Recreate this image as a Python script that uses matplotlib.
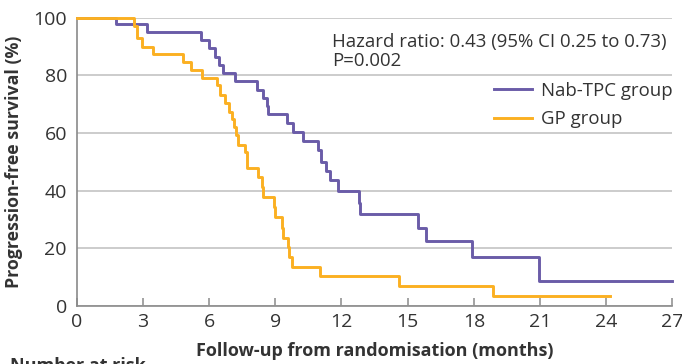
import matplotlib
matplotlib.use("Agg")
import matplotlib.pyplot as plt
from matplotlib.lines import Line2D

# Kaplan-Meier steps (months, % progression-free)
t_nab = [0, 1.78, 3.2, 5.62, 6.01, 6.28, 6.46, 6.65, 7.17, 8.15, 8.46, 8.61, 8.68,
         9.52, 9.81, 10.25, 10.92, 11.05, 11.29, 11.48, 11.85, 12.79, 12.85,
         15.48, 15.81, 17.92, 20.96, 27]
s_nab = [100, 97.7, 95.1, 92.3, 89.4, 86.5, 83.6, 80.7, 77.9, 75.0, 72.0, 69.4, 66.7,
         63.4, 60.3, 57.3, 54.0, 50.0, 46.9, 43.6, 39.7, 35.5, 31.8,
         27.1, 22.6, 17.0, 8.6, 8.6]

t_gp = [0, 2.6, 2.75, 2.94, 3.47, 4.83, 5.16, 5.66, 6.34, 6.49, 6.72, 6.91, 7.02,
        7.13, 7.2, 7.32, 7.63, 7.73, 8.23, 8.38, 8.45, 8.95, 9.0, 9.29, 9.37,
        9.56, 9.63, 9.77, 11.03, 14.6, 18.85, 24.16]
s_gp = [100, 97.0, 93.0, 89.9, 87.3, 84.7, 81.8, 79.2, 76.6, 73.2, 70.3, 67.4, 64.7,
        62.0, 59.3, 55.8, 53.5, 47.7, 44.8, 41.3, 37.8, 34.4, 30.9, 26.9, 23.4,
        20.5, 17.0, 13.5, 10.3, 6.8, 3.5, 3.5]

x_ticks = [0, 3, 6, 9, 12, 15, 18, 21, 24, 27]
y_ticks = [0, 20, 40, 60, 80, 100]
labels = ["Nab-TPC group", "GP group"]

purple = "#6a5ca8"
gold = "#fbb022"
grey = "#8a8a8a"
txt = "#333333"

plt.rcParams["font.family"] = ["Open Sans", "DejaVu Sans"]

W, H = 682, 364
fig = plt.figure(figsize=(W / 100, H / 100), dpi=100)
ax = fig.add_axes([76.7 / W, 1 - 305.7 / H, (672.5 - 76.7) / W, (305.7 - 17.7) / H])

ax.set_xlim(0, 27)
ax.set_ylim(0, 100)
ax.set_xticks(x_ticks)
ax.set_yticks(y_ticks)

ax.grid(axis="y", color="#c4c4c4", linewidth=1.2)
ax.set_axisbelow(True)

ax.step(t_nab, s_nab, where="post", color=purple, linewidth=2.1, clip_on=False, zorder=3)
ax.step(t_gp, s_gp, where="post", color=gold, linewidth=2.1, clip_on=False, zorder=3)

for side in ["top", "right"]:
    ax.spines[side].set_visible(False)
for side in ["left", "bottom"]:
    ax.spines[side].set_color(grey)
    ax.spines[side].set_linewidth(1.2)

ax.tick_params(axis="x", direction="in", length=6, width=1.1, color=grey,
               labelsize=14, labelcolor=txt, pad=5)
ax.tick_params(axis="y", length=0, labelsize=14, labelcolor=txt, pad=7)

ax.set_ylabel("Progression-free survival (%)", fontsize=12.8, fontweight="bold", color=txt)
ax.yaxis.set_label_coords(-0.09, 0.5)
ax.set_xlabel("Follow-up from randomisation (months)", fontsize=13, fontweight="bold", color=txt)
ax.xaxis.set_label_coords(0.5, -0.125)

fig.text(332 / W, 1 - 46.7 / H, "Hazard ratio: 0.43 (95% CI 0.25 to 0.73)",
         fontsize=13.4, color=txt, va="baseline", ha="left")
fig.text(332 / W, 1 - 65.5 / H, "P=0.002",
         fontsize=13.4, color=txt, va="baseline", ha="left")

handles = [Line2D([], [], color=purple, linewidth=2.1),
           Line2D([], [], color=gold, linewidth=2.1)]
fig.legend(handles, labels, loc="upper right", bbox_to_anchor=(673 / W, 1 - 82 / H),
           frameon=False, fontsize=13.4, handlelength=2.05, handletextpad=0.48,
           labelspacing=0.55, borderpad=0, borderaxespad=0, labelcolor=txt)

# cut-off heading of the table below the chart
fig.text(10 / W, 1 - 357 / H, "Number at risk", fontsize=13, fontweight="bold",
         color=txt, va="top", ha="left")

fig.savefig("out.png", dpi=100)
